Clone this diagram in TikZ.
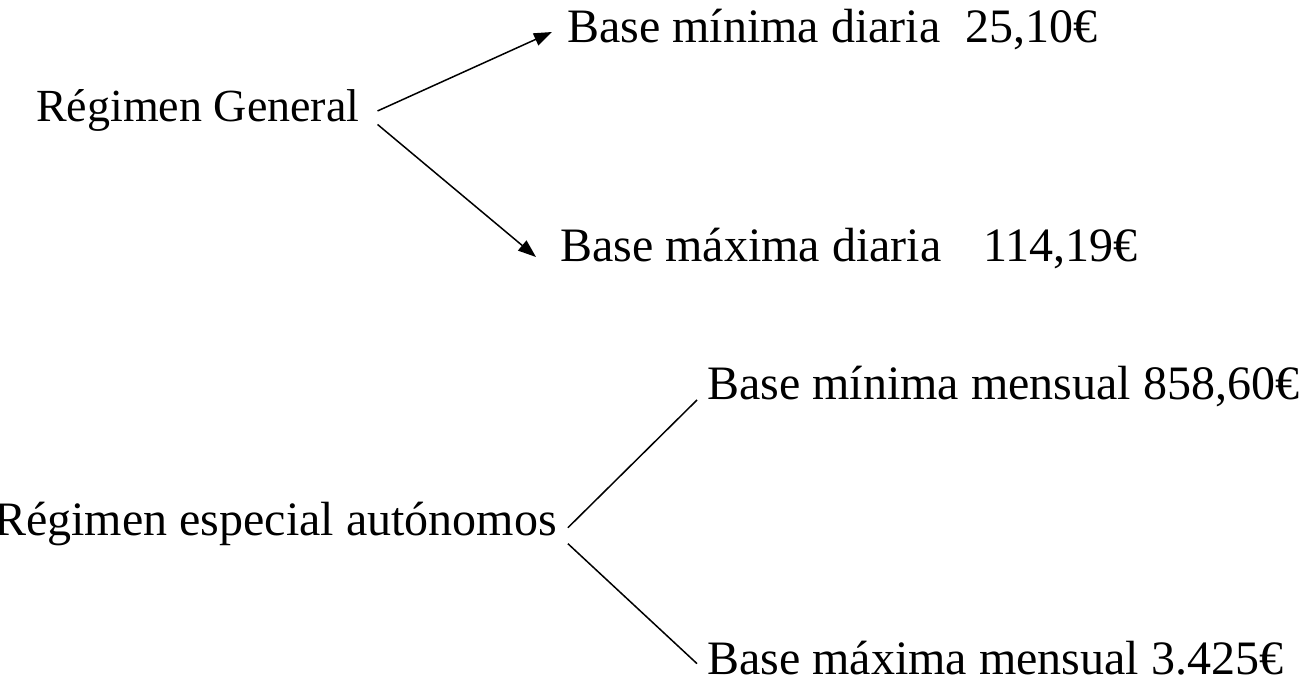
\documentclass[tikz,border=0pt]{standalone}
\usepackage{fontspec}
\setmainfont{Liberation Serif}
\usetikzlibrary{arrows.meta}
\tikzset{
  lbl/.style={anchor=base west, inner sep=0pt, font=\fontsize{48}{58}\selectfont},
  rama/.style={line width=1.5pt},
  flecha/.style={rama, -{Triangle[length=18pt,width=13pt]}}
}
\begin{document}
\begin{tikzpicture}[x=1pt,y=-1pt]
        \useasboundingbox (0,0) rectangle (1312,684);
        % Regimen general
        \node[lbl, font=\fontsize{46}{55}\selectfont] (gen) at (36,122) {Régimen General};
        \node[lbl] (dmin) at (567,43) {Base mínima diaria\hspace{0.52em}25,10€};
        \node[lbl] (dmax) at (560,262) {Base máxima diaria\hspace{0.87em}114,19€};
        \draw[flecha] ([xshift=18pt]gen.east) -- ([xshift=-15pt,yshift=-2pt]dmin.west);
        \draw[flecha] ([xshift=18pt,yshift=-13.5pt]gen.east) -- ([xshift=-24pt,yshift=-8pt]dmax.west);

        % Autonomos
        \node[lbl] (aut) at (-6,535) {Régimen especial autónomos};
        \node[lbl] (mmin) at (707,400) {Base mínima mensual 858,60€};
        \node[lbl] (mmax) at (707,674) {Base máxima mensual 3.425€};
        \draw[rama] ([xshift=11pt,yshift=-4.2pt]aut.east) -- ([xshift=-10pt,yshift=-13pt]mmin.west);
        \draw[rama] ([xshift=11pt,yshift=-20.2pt]aut.east) -- ([xshift=-10pt,yshift=-6pt]mmax.west);
    \end{tikzpicture}
\end{document}
